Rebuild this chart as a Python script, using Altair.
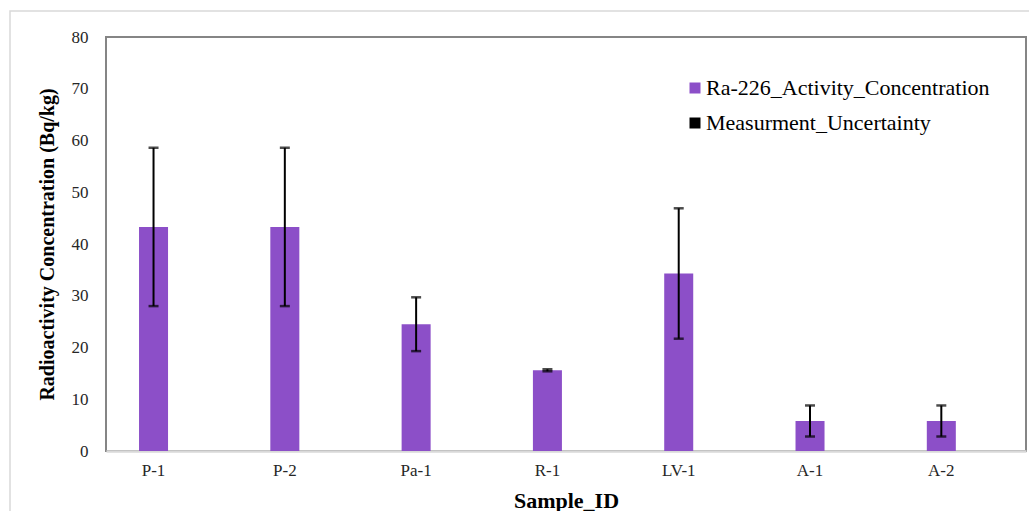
import altair as alt
import pandas as pd

samples = ["P-1", "P-2", "Pa-1", "R-1", "LV-1", "A-1", "A-2"]
activity = [43.3, 43.3, 24.5, 15.6, 34.3, 5.8, 5.8]
uncertainty = [15.3, 15.3, 5.2, 0.2, 12.6, 3.0, 3.0]
series = ["Ra-226_Activity_Concentration", "Measurment_Uncertainty"]
series_colors = ["#8C4FC8", "#000000"]
y_ticks = [0, 10, 20, 30, 40, 50, 60, 70, 80]

df = pd.DataFrame({
    "Sample": samples,
    "Value": activity,
    "Low": [v - u for v, u in zip(activity, uncertainty)],
    "High": [v + u for v, u in zip(activity, uncertainty)],
    "Series": series[0],
})

FONT = "Liberation Serif"

x_enc = alt.X(
    "Sample:N",
    sort=samples,
    scale=alt.Scale(paddingInner=0.779, paddingOuter=0.393, align=0.32),
    axis=alt.Axis(
        title="Sample_ID", labelAngle=0, ticks=False, domainColor="#d9d9d9",
        domainWidth=2.5, labelPadding=11, titlePadding=12, titleFontSize=22,
    ),
)

bars = alt.Chart(df).mark_bar().encode(
    x=x_enc,
    y=alt.Y(
        "Value:Q",
        scale=alt.Scale(domain=[0, 80], nice=False),
        axis=alt.Axis(
            title="Radioactivity Concentration (Bq/kg)", values=y_ticks,
            grid=False, ticks=False, domain=False, labelPadding=18, titlePadding=14,
            titleFontSize=20,
        ),
    ),
    color=alt.Color(
        "Series:N",
        scale=alt.Scale(domain=series, range=series_colors),
        legend=alt.Legend(
            title=None, orient="none", legendX=578, legendY=40,
            symbolType="square", symbolSize=121, symbolStrokeWidth=0,
            labelFontSize=22, labelFont=FONT, labelColor="#000000",
            rowPadding=13, labelOffset=0, direction="vertical",
            labelLimit=400,
        ),
    ),
)

rules = alt.Chart(df).mark_rule(color="#000000", strokeWidth=2).encode(
    x=alt.X("Sample:N", sort=samples),
    y="Low:Q",
    y2="High:Q",
)

caps_hi = alt.Chart(df).mark_tick(color="#000000", thickness=2.5, size=10).encode(
    x=alt.X("Sample:N", sort=samples), y="High:Q"
)
caps_lo = alt.Chart(df).mark_tick(color="#000000", thickness=2.5, size=10).encode(
    x=alt.X("Sample:N", sort=samples), y="Low:Q"
)

border = alt.Chart(df.head(1)).mark_rect(
    fill=None, stroke="#d9d9d9", strokeWidth=1.5, clip=False
).encode(
    x=alt.value(-96), x2=alt.value(960), y=alt.value(-26), y2=alt.value(520)
)

chart = alt.layer(border, bars, rules, caps_hi, caps_lo).properties(
    width=920,
    height=414,
    background="#ffffff",
    autosize=alt.AutoSizeParams(type="none"),
    padding={"left": 106, "top": 37, "right": 3, "bottom": 60},
).configure_view(
    stroke="#858585", strokeWidth=2
).configure_axis(
    labelFont=FONT, labelFontSize=17, labelColor="#262626",
    titleFont=FONT, titleFontSize=19, titleFontWeight="bold", titleColor="#000000",
)

chart.save("out.html", embed_options={"renderer": "svg", "actions": False})
